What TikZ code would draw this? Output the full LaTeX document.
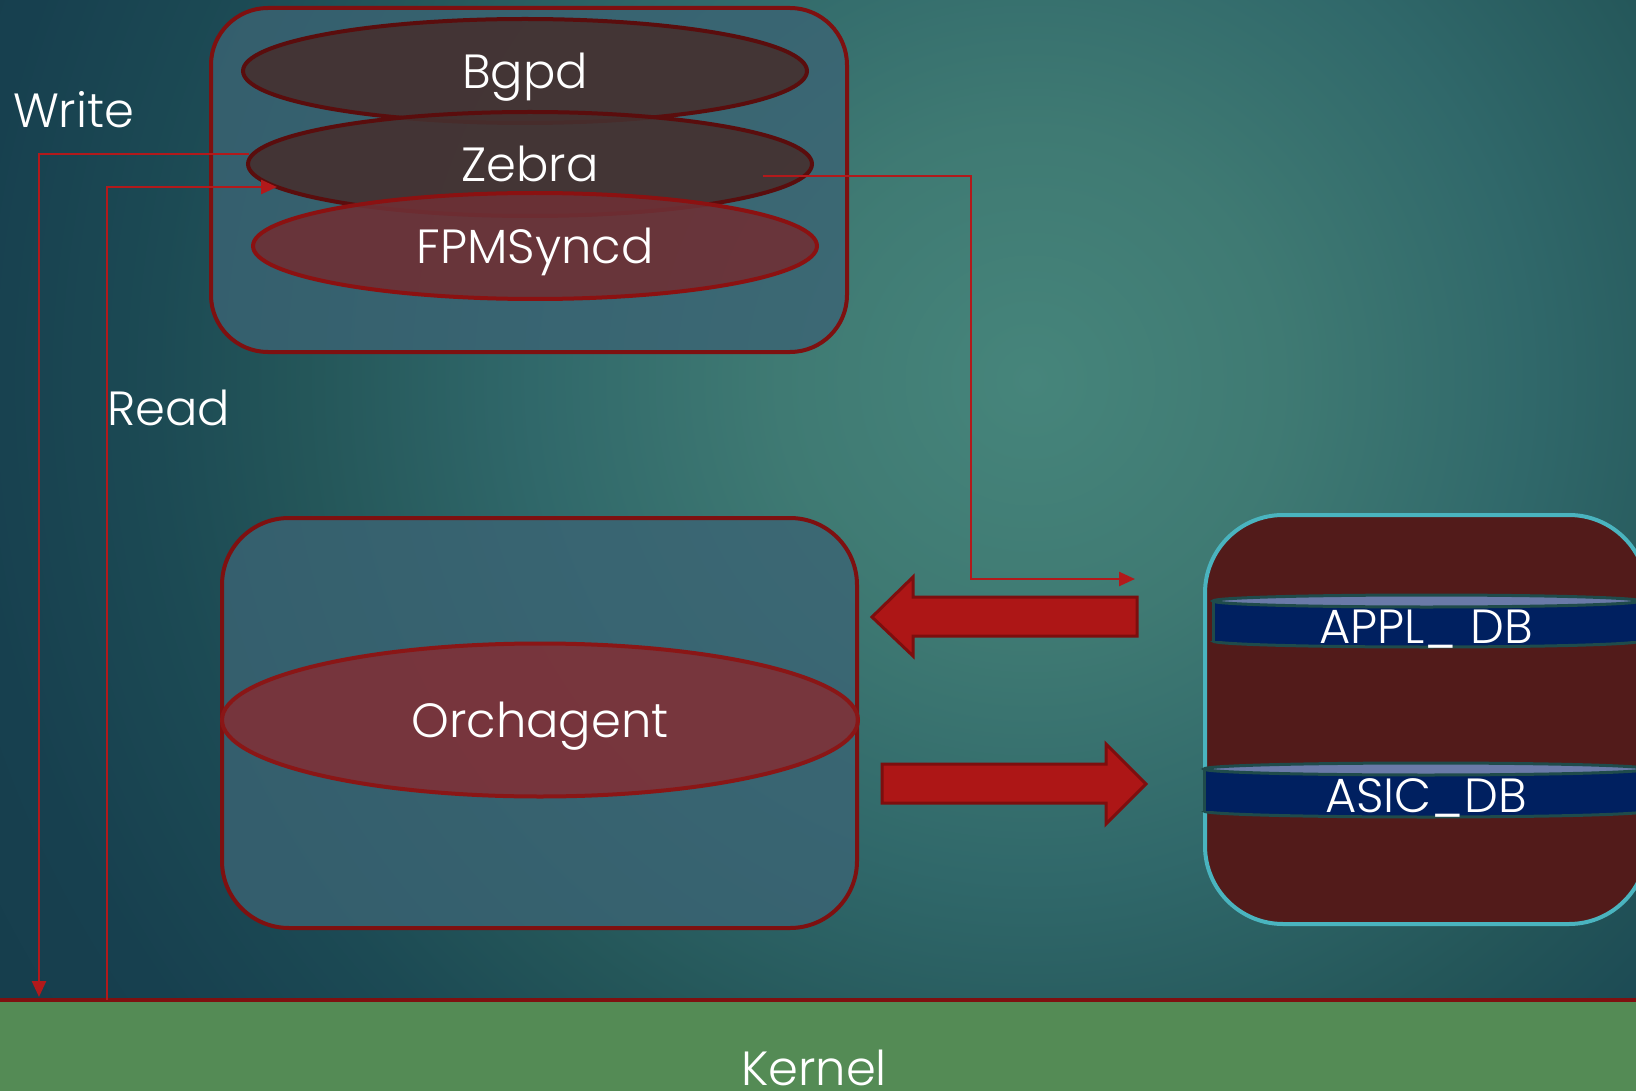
\documentclass[tikz,border=0pt]{standalone}
\usepackage{fontspec}
\setmainfont{Poppins Light}
\usetikzlibrary{arrows.meta,calc,shapes.geometric}
\definecolor{bgA}{HTML}{46857B}
\definecolor{bgB}{HTML}{3F7A73}
\definecolor{bgC}{HTML}{30686A}
\definecolor{bgD}{HTML}{245659}
\definecolor{bgE}{HTML}{1C4A54}
\definecolor{bgF}{HTML}{17404F}
\definecolor{bgG}{HTML}{163D4C}
\definecolor{boxred}{HTML}{7E1010}
\definecolor{grpfill}{HTML}{3B6474}
\definecolor{darkproc}{HTML}{45302F}
\definecolor{darkline}{HTML}{5A0D0D}
\definecolor{fpmfill}{HTML}{6E3035}
\definecolor{fpmline}{HTML}{8B1111}
\definecolor{orchfill}{HTML}{7E3138}
\definecolor{orchline}{HTML}{8A1616}
\definecolor{dbfill}{HTML}{521B1A}
\definecolor{dbline}{HTML}{4AB4BF}
\definecolor{cylbody}{HTML}{002060}
\definecolor{cyltop}{HTML}{6A7AA8}
\definecolor{cylline}{HTML}{1F4B4B}
\definecolor{bigfill}{HTML}{AD1616}
\definecolor{bigline}{HTML}{7D0E0E}
\definecolor{connred}{HTML}{B2191B}
\definecolor{kgreen}{HTML}{548B55}
\pgfdeclareradialshading{bgshade}{\pgfpoint{0bp}{0bp}}{color(0bp)=(bgA); color(10bp)=(bgB); color(20bp)=(bgC); color(29bp)=(bgD); color(35bp)=(bgE); color(42.5bp)=(bgF); color(50bp)=(bgG)}
\begin{document}
\begin{tikzpicture}[x=1pt,y=-1pt,
  every node/.style={inner sep=0pt, outer sep=0pt},
  lbl/.style={text=white, font=\fontsize{48}{48}\selectfont},
  grp/.style={rectangle, draw=boxred, line width=4pt, fill=grpfill, fill opacity=0.8, text opacity=1},
  proc/.style={ellipse, line width=4pt, lbl, text height=35pt, text depth=0pt, fill opacity=0.9, text opacity=1},
  conn/.style={draw=connred, line width=2.5pt},
  arrowend/.style={-{Triangle[length=16pt,width=14pt]}},
  bigarrow/.style={fill=bigfill, draw=bigline, line width=3pt, line join=miter},
]
\useasboundingbox (0,0) rectangle (1636,1091);
\begin{scope}
\clip (0,0) rectangle (1636,1091);
\fill[bgG] (0,0) rectangle (1636,1091);
\begin{scope}[shift={(1030,380)}]
\pgftransformscale{24.9}
\pgflowlevelsynccm
\pgfuseshading{bgshade}
\end{scope}

% kernel band
\node[fill=kgreen, minimum width=1636pt, minimum height=91pt, anchor=north west] (kernel) at (0,1000) {};
\draw[line width=4pt, boxred] (kernel.north west) -- (kernel.north east);
\node[lbl, anchor=base] (klabel) at (814,1085) {Kernel};

% top group
\node[grp, rounded corners=57pt, minimum width=636pt, minimum height=344pt] (topgrp) at (529,180) {};
\node[proc, fill=darkproc, draw=darkline, minimum width=564pt, minimum height=104pt] (bgpd) at (525,71) {Bgpd};
\node[proc, fill=darkproc, draw=darkline, minimum width=564pt, minimum height=104pt] (zebra) at (530,164) {Zebra};
\node[proc, fill=fpmfill, draw=fpmline, minimum width=564pt, minimum height=106pt] (fpm) at (535,246) {FPMSyncd};

% orchagent group
\node[grp, rounded corners=67pt, minimum width=635pt, minimum height=410pt] (orchgrp) at (539.5,723) {};
\node[proc, fill=orchfill, draw=orchline, minimum width=636pt, minimum height=153pt] (orch) at (540,720) {Orchagent};

% DB group
\node[rectangle, draw=dbline, line width=4pt, fill=dbfill, rounded corners=78pt, minimum width=442pt, minimum height=409pt] (dbgrp) at (1426,719.5) {};

% APPL_DB cylinder
\fill[cylbody] (1213,601) rectangle (1640,641);
\fill[cylbody] (1426.5,641) ellipse[x radius=213.5, y radius=6];
\begin{scope}
\clip (1190,641) rectangle (1660,660);
\draw[cylline, line width=3pt] (1426.5,641) ellipse[x radius=213.5, y radius=6];
\end{scope}
\draw[cylline, line width=3pt] (1213,601) -- (1213,641);
\filldraw[fill=cyltop, draw=cylline, line width=3pt] (1426.5,601) ellipse[x radius=213.5, y radius=6];
\node[lbl, anchor=base] (appl) at (1426,643) {APPL\_ DB};

% ASIC_DB cylinder
\fill[cylbody] (1204,769) rectangle (1648,811);
\fill[cylbody] (1426,811) ellipse[x radius=222, y radius=6];
\begin{scope}
\clip (1190,811) rectangle (1660,830);
\draw[cylline, line width=3pt] (1426,811) ellipse[x radius=222, y radius=6];
\end{scope}
\draw[cylline, line width=3pt] (1204,769) -- (1204,811);
\filldraw[fill=cyltop, draw=cylline, line width=3pt] (1426,769) ellipse[x radius=222, y radius=6];
\node[lbl, anchor=base] (asic) at (1426,812) {ASIC\_DB};

% big arrows
\draw[bigarrow] (872,617) -- (913,577) -- (913,597) -- (1137,597) -- (1137,636) -- (913,636) -- (913,656) -- cycle;
\draw[bigarrow] (882,764) -- (1106,764) -- (1106,744) -- (1146,784) -- (1106,824) -- (1106,803) -- (882,803) -- cycle;

% labels
\node[lbl, anchor=base west] (write) at (13,128) {Write};
\node[lbl, anchor=base west] (read) at (107,425) {Read};

% connectors
\coordinate (wS) at ($(zebra.center)+(-281,-10)$);
\coordinate (wE) at (39,997);
\draw[conn, arrowend] (wS) -| (wE);
\coordinate (rS) at (107,1000);
\coordinate (rE) at (277,187);
\draw[conn, arrowend] (rS) |- (rE);
\coordinate (zS) at ($(zebra.center)+(233,12)$);
\coordinate (zM) at (971,579);
\coordinate (zE) at (1135,579);
\draw[conn, arrowend] (zS) -| (zM) -- (zE);
\end{scope}
\end{tikzpicture}
\end{document}
